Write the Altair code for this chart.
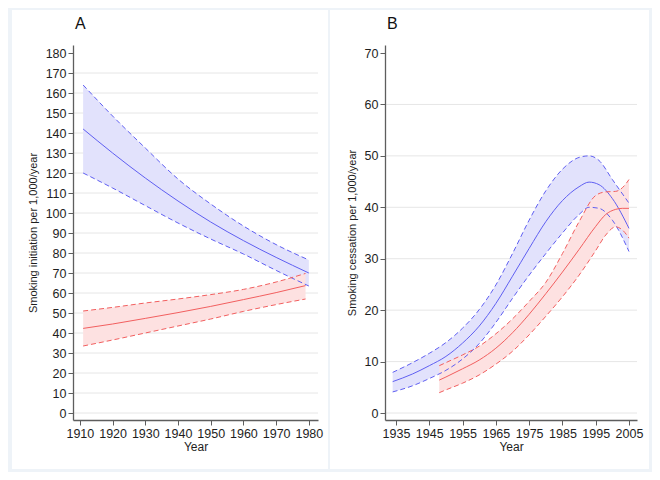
import altair as alt
import pandas as pd

# ---------------- Panel A: smoking initiation ----------------
A_BLUE_YEARS = [1911, 1920, 1930, 1940, 1950, 1960, 1970, 1980]
A_BLUE_MEAN = [142, 130, 117.5, 106, 95.5, 86.2, 77.8, 70]
A_BLUE_HI = [164, 148.5, 132.5, 117, 104.5, 93.5, 84.2, 76.5]
A_BLUE_LO = [120, 112.5, 103.7, 95, 87, 79.5, 71.3, 63.5]

A_RED_YEARS = [1911, 1920, 1930, 1940, 1950, 1960, 1970, 1979]
A_RED_MEAN = [42.3, 44.5, 47.3, 50.2, 53.3, 56.7, 60.2, 63.7]
A_RED_HI = [51, 52.8, 55, 57, 59.2, 61.8, 65.5, 69.8]
A_RED_LO = [33.5, 36.5, 40, 43.5, 47, 50.8, 54.2, 57]

A_XTICKS = [1910, 1920, 1930, 1940, 1950, 1960, 1970, 1980]
A_YTICKS = list(range(0, 181, 10))
A_GRID = list(range(0, 171, 10))

# ---------------- Panel B: smoking cessation ----------------
B_BLUE_YEARS = [1934, 1940, 1945, 1950, 1955, 1960, 1965, 1970, 1975, 1980, 1985, 1990, 1993, 1996, 2000, 2005]
B_BLUE_MEAN = [6.1, 7.6, 9.2, 11.0, 13.6, 16.9, 21.3, 26.6, 32.0, 37.2, 41.3, 44.0, 44.9, 44.4, 41.7, 35.9]
B_BLUE_HI = [7.9, 9.8, 11.6, 13.7, 16.5, 20.1, 24.9, 31.0, 37.5, 43.2, 47.4, 49.7, 50.0, 49.1, 45.4, 40.8]
B_BLUE_LO = [4.1, 5.3, 6.7, 8.3, 10.5, 13.5, 17.6, 22.3, 26.8, 31.0, 35.0, 38.6, 40.0, 39.8, 37.5, 31.4]

B_RED_YEARS = [1948, 1950, 1955, 1960, 1965, 1970, 1975, 1980, 1985, 1990, 1995, 1998, 2001, 2003, 2005]
B_RED_MEAN = [6.4, 7.0, 8.6, 10.3, 12.6, 15.6, 19.2, 23.2, 27.4, 31.8, 36.3, 38.6, 39.6, 39.8, 39.8]
B_RED_HI = [9.2, 9.8, 11.3, 13.0, 15.4, 18.3, 21.7, 25.4, 31.0, 37.2, 42.3, 43.0, 43.1, 43.8, 45.4]
B_RED_LO = [3.95, 4.5, 5.8, 7.4, 9.5, 12.0, 15.2, 18.8, 22.6, 26.8, 31.6, 34.6, 36.2, 35.6, 34.0]

B_XTICKS = [1935, 1945, 1955, 1965, 1975, 1985, 1995, 2005]
B_YTICKS = list(range(0, 71, 10))
B_GRID = list(range(0, 61, 10))

BLUE_LINE, BLUE_FILL = "#5f5ff2", "#e2e2fc"
RED_LINE, RED_FILL = "#f25f5f", "#fde1e1"
FONT = "Liberation Sans"


def frame(years, lo, mean, hi):
    return pd.DataFrame({"year": years, "lo": lo, "mean": mean, "hi": hi})


def panel(title, ytitle, blue, red, xdom, ydom, xticks, yticks, grid_vals, W, H, bg):
    xs = alt.Scale(domain=xdom, nice=False, zero=False)
    ys = alt.Scale(domain=ydom, nice=False, zero=False)
    xax = alt.Axis(values=xticks, format="d", title="Year", grid=False, zindex=2,
                   titleFontSize=12, titlePadding=2)
    yax = alt.Axis(values=yticks, format="d", title=ytitle, grid=False, zindex=2,
                   titleFontSize=11, titlePadding=7)
    X = alt.X("year:Q", scale=xs, axis=xax)

    one = pd.DataFrame({"k": [0]})
    back = alt.Chart(one).mark_rect(color="white").encode(
        x=alt.value(bg[0]), x2=alt.value(bg[1]), y=alt.value(bg[2]), y2=alt.value(bg[3])
    )
    label = alt.Chart(one).mark_text(
        text=title, font=FONT, fontSize=16, color="#111111", align="left", baseline="alphabetic"
    ).encode(x=alt.value(2), y=alt.value(-16))
    grid = alt.Chart(pd.DataFrame({"g": grid_vals})).mark_rule(
        color="#e6e6e6", strokeWidth=1
    ).encode(y=alt.Y("g:Q", scale=ys, axis=yax), x=alt.value(0), x2=alt.value(W))

    layers = [back, label, grid]
    for df, fill in ((blue, BLUE_FILL), (red, RED_FILL)):
        layers.append(
            alt.Chart(df).mark_area(color=fill, opacity=1, interpolate="monotone").encode(
                x=X, y=alt.Y("lo:Q", scale=ys, axis=yax), y2="hi:Q"
            )
        )
    for df, col in ((blue, BLUE_LINE), (red, RED_LINE)):
        for fld in ("hi", "lo"):
            layers.append(
                alt.Chart(df).mark_line(
                    color=col, strokeWidth=1, strokeDash=[5, 3], interpolate="monotone"
                ).encode(x=X, y=alt.Y(f"{fld}:Q", scale=ys, axis=yax))
            )
        layers.append(
            alt.Chart(df).mark_line(color=col, strokeWidth=1, interpolate="monotone").encode(
                x=X, y=alt.Y("mean:Q", scale=ys, axis=yax)
            )
        )
    return alt.layer(*layers).properties(width=W, height=H)


pA = panel(
    "A", "Smoking initiation per 1,000/year",
    frame(A_BLUE_YEARS, A_BLUE_LO, A_BLUE_MEAN, A_BLUE_HI),
    frame(A_RED_YEARS, A_RED_LO, A_RED_MEAN, A_RED_HI),
    [1907.9, 1982.8], [-3.5, 184.0], A_XTICKS, A_YTICKS, A_GRID,
    245, 375, (-61, 255, -35, 424),
)
pB = panel(
    "B", "Smoking cessation per 1,000/year",
    frame(B_BLUE_YEARS, B_BLUE_LO, B_BLUE_MEAN, B_BLUE_HI),
    frame(B_RED_YEARS, B_RED_LO, B_RED_MEAN, B_RED_HI),
    [1931.7, 2007.4], [-1.36, 71.56], B_XTICKS, B_YTICKS, B_GRID,
    252, 375, (-55, 264, -35, 424),
)

chart = alt.hconcat(pA, pB, spacing=67, bounds="flush").configure(
    background="#eef3f8",
    padding={"left": 4, "top": 2, "right": 3, "bottom": 3},
    font=FONT,
).configure_view(stroke=None).configure_axis(
    labelFont=FONT, titleFont=FONT, labelFontSize=12.5,
    titleFontWeight="normal", labelColor="#1e1e1e", titleColor="#1e1e1e",
    domainColor="#5e5e5e", tickColor="#5e5e5e", domainWidth=1.3, tickWidth=1,
    tickSize=5, labelPadding=2,
)

chart.save("out.html", embed_options={"renderer": "svg", "actions": False})
